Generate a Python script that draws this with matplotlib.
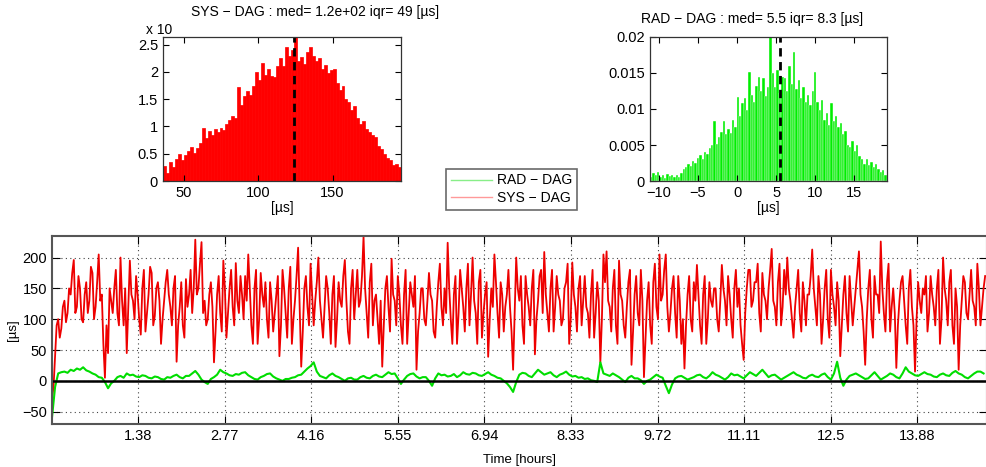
import numpy as np
import matplotlib
matplotlib.use("Agg")
import matplotlib.pyplot as plt
from matplotlib.lines import Line2D
from matplotlib.ticker import FuncFormatter

plt.rcParams['font.family'] = ['Liberation Sans', 'DejaVu Sans']
plt.rcParams['font.size'] = 9

# ---- time series (hours, microseconds) ----
sys_dt = 0.025
sys_dag = [
    -30, -10, 40, 90, 100, 70, 85, 120, 130, 95, 110, 150, 140, 175, 196, 110, 120, 170, 150, 100,
    95, 140, 160, 110, 130, 185, 175, 100, 120, 160, 205, 130, 140, 60, 5, 90, 45, 150, 130, 110,
    150, 180, 110, 90, 200, 130, 90, 150, 45, 120, 195, 140, 130, 100, 170, 140, 100, 75, 150, 180,
    80, 110, 140, 185, 175, 90, 105, 150, 160, 130, 60, 100, 130, 160, 180, 140, 120, 90, 150, 170,
    31, 90, 120, 160, 90, 70, 165, 120, 140, 180, 110, 150, 229, 140, 150, 190, 225, 110, 130, 90,
    100, 140, 160, 120, 30, 80, 140, 170, 110, 80, 195, 150, 70, 110, 150, 180, 120, 90, 191, 130,
    110, 170, 140, 100, 170, 130, 205, 150, 90, 60, 150, 180, 60, 100, 175, 140, 120, 160, 100, 70,
    160, 130, 80, 110, 140, 170, 40, 90, 180, 150, 110, 70, 150, 185, 60, 100, 130, 170, 216, 120,
    23, 80, 150, 170, 120, 90, 190, 140, 90, 130, 160, 200, 130, 100, 70, 120, 170, 150, 110, 60,
    140, 170, 55, 100, 160, 130, 120, 170, 196, 130, 80, 60, 150, 180, 100, 140, 180, 120, 130, 170,
    234, 150, 110, 70, 160, 190, 90, 130, 140, 100, 60, 130, 23, 90, 150, 170, 120, 80, 198, 140,
    130, 90, 170, 140, 90, 60, 140, 180, 60, 110, 160, 140, 120, 170, 18, 80, 110, 150, 150, 100,
    90, 130, 175, 140, 130, 80, 70, 120, 160, 190, 120, 90, 150, 110, 224, 150, 100, 60, 140, 170,
    60, 110, 180, 150, 120, 80, 150, 190, 90, 140, 200, 130, 110, 60, 160, 180, 70, 110, 140, 160,
    39, 100, 150, 120, 205, 160, 110, 70, 160, 140, 80, 120, 140, 180, 120, 80, 18, 110, 200, 150,
    130, 170, 90, 60, 170, 140, 120, 90, 150, 180, 43, 100, 130, 170, 180, 110, 209, 140, 110, 80,
    150, 180, 80, 120, 170, 140, 130, 90, 100, 150, 160, 190, 60, 100, 192, 140, 120, 80, 150, 170,
    90, 130, 170, 120, 110, 70, 140, 180, 70, 110, 160, 130, 30, 100, 205, 160, 210, 130, 120, 80,
    150, 180, 90, 60, 195, 140, 130, 90, 70, 120, 160, 180, 26, 80, 140, 170, 110, 90, 180, 130,
    6, 70, 130, 160, 90, 60, 160, 190, 120, 100, 205, 130, 140, 180, 205, 120, 80, 110, 150, 170,
    110, 70, 170, 130, 60, 100, 20, 90, 140, 170, 100, 80, 160, 130, 188, 140, 90, 60, 140, 170,
    60, 100, 160, 130, 120, 150, 150, 100, 80, 130, 188, 150, 130, 90, 170, 140, 100, 70, 150, 180,
    120, 150, 90, 60, 34, 110, 150, 180, 180, 120, 130, 160, 160, 190, 110, 80, 175, 140, 130, 100,
    150, 180, 214, 130, 120, 90, 160, 190, 90, 120, 180, 140, 200, 150, 130, 100, 70, 120, 150, 180,
    110, 80, 160, 130, 90, 140, 140, 170, 213, 150, 120, 90, 170, 140, 60, 100, 150, 180, 100, 70,
    180, 140, 120, 90, 160, 130, 40, 90, 140, 170, 110, 80, 170, 130, 90, 120, 150, 180, 210, 140,
    120, 80, 26, 100, 150, 180, 100, 70, 170, 140, 140, 110, 226, 150, 110, 80, 160, 190, 80, 120,
    150, 110, 21, 90, 130, 160, 170, 130, 90, 60, 150, 180, 120, 90, 15, 100, 160, 130, 110, 150,
    140, 170, 80, 110, 170, 140, 120, 90, 150, 180, 60, 100, 200, 150, 130, 90, 160, 180, 90, 60,
    150, 120, 18, 90, 130, 170, 160, 110, 100, 140, 180, 130, 120, 90, 190, 150, 90, 120, 150, 170,
]

rad_dt = 0.05
rad_dag = [
    -60, -10, 12, 14, 15, 13, 18, 16, 20, 18, 22, 17, 15, 12, 10, 6, 5, -2, -12, -4,
    0, 6, 8, 5, 12, 9, 10, 7, 6, 9, 8, 5, 4, 7, 6, 3, 2, 6, 5, 8,
    10, 6, 4, 8, 8, 12, 16, 10, 2, -2, -5, 3, 6, 10, 18, 14, 12, 9, 8, 11,
    10, 13, 14, 9, 6, 3, 2, 6, 8, 11, 12, 7, 4, 2, 0, 3, 3, 5, 6, 9,
    10, 15, 20, 24, 30, 15, 8, 6, 4, 9, 12, 8, 6, 3, 0, 4, 5, 2, 2, 6,
    8, 5, 4, 8, 10, 7, 6, 10, 14, 11, 12, 4, -5, 2, 8, 11, 12, 7, 4, 6,
    6, 0, -8, 4, 12, 9, 10, 7, 8, 11, 6, 9, 14, 11, 10, 13, 12, 9, 8, 11,
    14, 10, 8, 5, 4, 0, -4, -10, -18, -2, 10, 13, 12, 8, 6, 12, 18, 14, 10, 12,
    14, 9, 6, 10, 12, 15, 10, 7, 8, 5, 6, 3, 4, 1, 0, -2, 30, 12, 10, 8,
    12, 9, 6, 2, -2, 5, 8, 4, 4, 1, -5, 0, 2, 6, 10, 7, 5, -8, -20, -6,
    4, 7, 8, 5, 2, 4, 6, 9, 10, 6, 4, 8, 14, 10, 8, 5, 2, 6, 12, 9,
    10, 7, 4, 9, 14, 11, 8, 13, 18, 12, 6, 9, 10, 6, 2, 5, 8, 11, 14, 10,
    8, 5, 4, 8, 10, 7, 6, 10, 12, 6, 2, 12, 31, 5, -8, 2, 8, 10, 12, 9,
    6, 3, 4, 9, 14, 8, 2, 5, 8, 12, 10, 6, 4, 12, 22, 15, 12, 9, 8, 11,
    14, 11, 10, 7, 6, 10, 12, 9, 8, 13, 16, 12, 10, 6, 4, 8, 12, 15, 15, 12,
]

time_ticks = [1.38, 2.77, 4.16, 5.55, 6.94, 8.33, 9.72, 11.11, 12.5, 13.88]

# ---- histograms (density, x1e-3) ----
sys_hist_start, sys_hist_width = 36.0, 2.0
sys_hist = [
    0.28, 0.15, 0.35, 0.25, 0.40, 0.50, 0.38, 0.48, 0.55, 0.62,
    0.52, 0.60, 0.70, 0.98, 0.78, 0.92, 0.85, 0.95, 0.90, 0.97,
    0.93, 1.05, 1.12, 1.20, 1.15, 1.72, 1.40, 1.55, 1.65, 1.58,
    1.75, 2.00, 1.85, 2.16, 1.95, 2.05, 1.92, 1.90, 2.10, 2.25,
    2.10, 2.46, 2.30, 2.40, 2.64, 2.20, 2.27, 2.15, 2.37, 2.45,
    2.30, 2.20, 2.25, 2.05, 2.12, 1.98, 2.03, 2.05, 1.80, 1.67,
    1.75, 1.50, 1.45, 1.30, 1.38, 1.15, 1.05, 1.10, 0.95, 0.90,
    0.85, 0.80, 0.65, 0.58, 0.50, 0.43, 0.38, 0.30, 0.32, 0.25,
]
sys_med = 124.0

rad_hist_start, rad_hist_width = -11.15, 0.3
rad_hist = [
    0.6, 1.1, 0.8, 1.2, 0.5, 0.9, 0.4, 1.0, 0.7, 0.9, 0.5, 0.8, 0.6, 1.1,
    1.6, 2.0, 2.4, 2.1, 2.8, 2.5, 3.2, 3.6, 3.1, 4.0, 3.8, 4.6, 5.0, 8.3,
    5.2, 6.1, 6.8, 8.4, 6.5, 7.2, 6.6, 8.5, 7.5, 11.6, 9.0, 10.8, 11.5, 9.8,
    15.1, 12.0, 11.0, 13.2, 14.4, 12.5, 14.3, 11.8, 13.0, 20.0, 15.0, 13.0,
    15.4, 12.2, 14.5, 14.3, 12.5, 16.0, 13.5, 17.9, 12.8, 14.0, 11.5, 13.0,
    11.0, 12.0, 10.5, 12.5, 15.1, 11.0, 9.8, 11.2, 8.5, 9.5, 7.8, 10.8, 8.4,
    9.0, 7.5, 8.1, 6.5, 7.0, 5.0, 4.7, 5.5, 4.2, 5.0, 3.5, 3.0, 2.4, 3.0,
    2.2, 2.6, 2.0, 2.4, 1.6, 1.2, 1.5, 0.9,
]
rad_med = 5.5

fig = plt.figure(figsize=(9.86, 4.67), dpi=100)


def matlab_axes(ax):
    ax.tick_params(direction='in', top=True, right=True, length=4, width=0.8, labelsize=10.5)
    for s in ax.spines.values():
        s.set_linewidth(0.9)
        s.set_color('#333333')


# SYS histogram
ax1 = fig.add_axes([0.1653, 0.6124, 0.2414, 0.3084])
sx = sys_hist_start + sys_hist_width * (np.arange(len(sys_hist)) + 0.5)
ax1.bar(sx, sys_hist, width=sys_hist_width, color='#ff0000', edgecolor='#ff0000', linewidth=0.5)
ax1.axvline(sys_med, color='black', linestyle=(0, (3, 2)), linewidth=2)
ax1.set_xlim(36, 196)
ax1.set_ylim(0, 2.64)
ax1.set_xticks([50, 100, 150])
ax1.set_yticks([0, 0.5, 1, 1.5, 2, 2.5])
ax1.yaxis.set_major_formatter(FuncFormatter(lambda v, p: '%g' % v))
ax1.set_xlabel('[µs]', labelpad=1, fontsize=10)
ax1.set_title('SYS − DAG : med= 1.2e+02 iqr= 49 [µs]', fontsize=10, pad=15, x=0.64)
ax1.text(-0.07, 1.0, 'x 10', transform=ax1.transAxes, fontsize=10, ha='left', va='bottom')
matlab_axes(ax1)

# RAD histogram
ax2 = fig.add_axes([0.6592, 0.6124, 0.2404, 0.3084])
rx = rad_hist_start + rad_hist_width * (np.arange(len(rad_hist)) + 0.5)
ax2.bar(rx, np.array(rad_hist) * 1e-3, width=rad_hist_width, color='#00ee00',
        edgecolor='white', linewidth=0.3)
ax2.axvline(rad_med, color='black', linestyle=(0, (3, 2)), linewidth=2)
ax2.set_xlim(-11.15, 19.2)
ax2.set_ylim(0, 0.02)
ax2.set_xticks([-10, -5, 0, 5, 10, 15])
ax2.set_yticks([0, 0.005, 0.01, 0.015, 0.02])
ax2.yaxis.set_major_formatter(FuncFormatter(lambda v, p: '%g' % v))
ax2.set_xlabel('[µs]', labelpad=1, fontsize=10)
ax2.set_title('RAD − DAG : med= 5.5 iqr= 8.3 [µs]', fontsize=10, pad=10, x=0.43)
matlab_axes(ax2)

# time series
ax3 = fig.add_axes([0.0527, 0.0921, 0.948, 0.4026])
ts = np.arange(len(sys_dag)) * sys_dt
tr = np.arange(len(rad_dag)) * rad_dt
ax3.grid(True, color='#444444', linestyle=(0, (1, 3)), linewidth=0.8)
ax3.plot(ts, sys_dag, color='#ee0000', linewidth=1.3)
ax3.plot(tr, rad_dag, color='#00dd00', linewidth=1.5)
ax3.axhline(0, color='black', linewidth=1.8)
ax3.set_xlim(0, 15)
ax3.set_ylim(-70, 235)
ax3.set_xticks(time_ticks)
ax3.set_xticklabels(['%g' % t for t in time_ticks])
ax3.set_yticks([-50, 0, 50, 100, 150, 200])
ax3.set_xlabel('Time [hours]', labelpad=8, fontsize=9.5)
ax3.set_ylabel('[µs]', labelpad=2, fontsize=9.5)
matlab_axes(ax3)
ax3.tick_params(length=6)
for s in ax3.spines.values():
    s.set_linewidth(1.5)
    s.set_color('#555555')

handles = [Line2D([], [], color='#88ee88', linewidth=1),
           Line2D([], [], color='#ff9999', linewidth=1)]
leg = fig.legend(handles, ['RAD − DAG', 'SYS − DAG'], loc='center',
                 bbox_to_anchor=(0.5185, 0.595), fontsize=10, frameon=True,
                 fancybox=False, handlelength=3.0, borderpad=0.35, labelspacing=0.25,
                 handletextpad=0.3, borderaxespad=0)
leg.get_frame().set_edgecolor('#444444')
leg.get_frame().set_linewidth(1.2)

fig.savefig('out.png', dpi=100)
